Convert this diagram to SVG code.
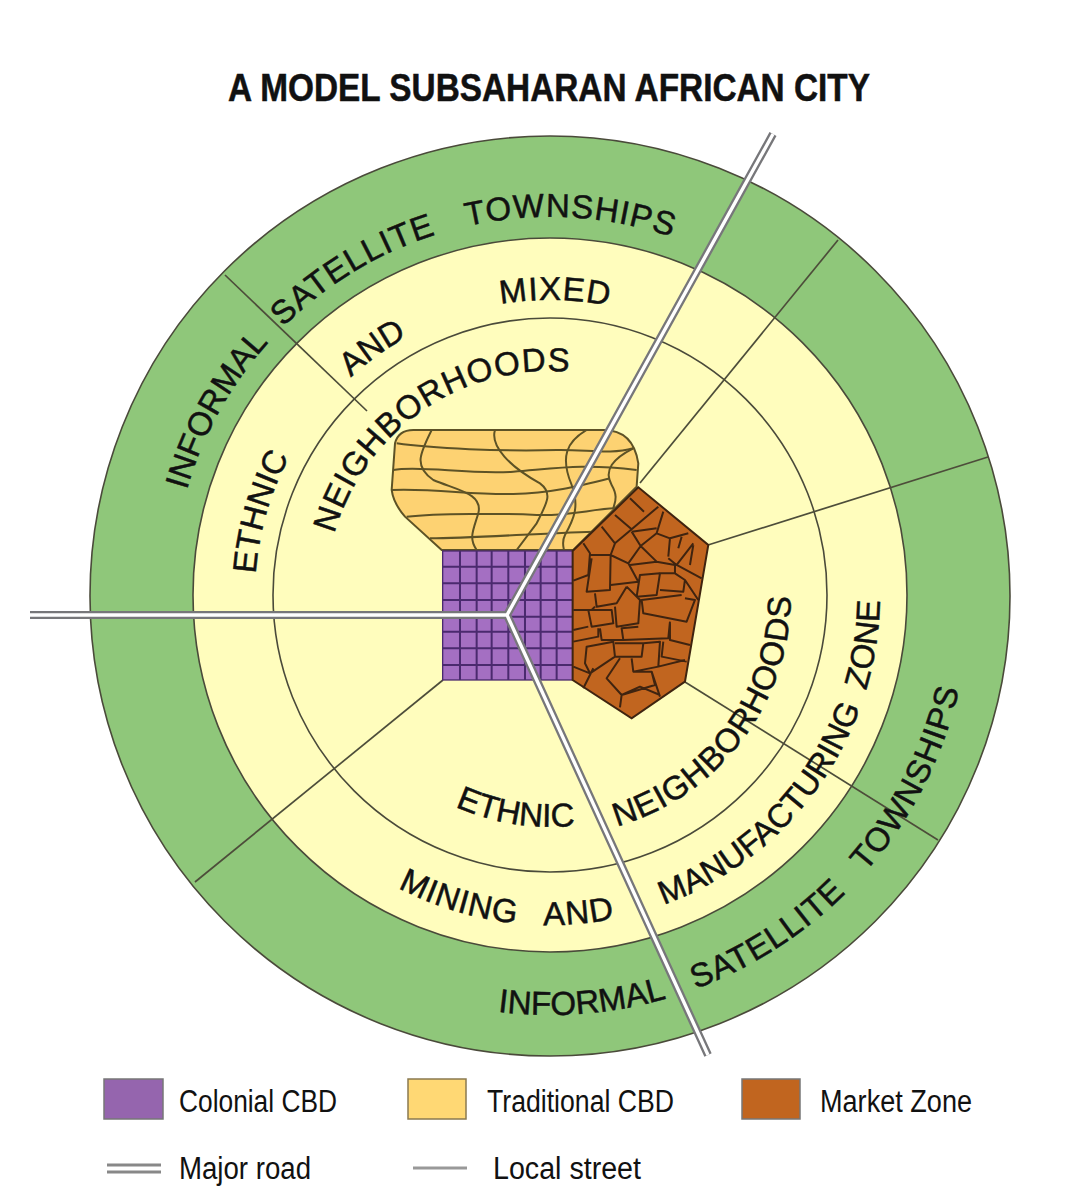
<svg xmlns="http://www.w3.org/2000/svg" width="1081" height="1200" viewBox="0 0 1081 1200">
<style>
text{font-family:"Liberation Sans",Arial,sans-serif;fill:#111}
.z{font-size:33px;text-anchor:middle;stroke:#111;stroke-width:.5}
.title{font-size:38px;font-weight:bold;stroke:#111;stroke-width:.5}
.leg{font-size:31px}
.ring{stroke:#4a4a3a;stroke-width:1.6}
.st{fill:none;stroke:#4d4d3a;stroke-width:1.7}
.tl{fill:none;stroke:#5d5226;stroke-width:6;stroke-linejoin:round}
.ml{fill:none;stroke:#3f2410;stroke-width:6;stroke-linejoin:round}
.gl{fill:none;stroke:#4a2a6e;stroke-width:6}
.r1{fill:none;stroke:#77777a;stroke-width:8;stroke-linejoin:miter}
.r2{fill:none;stroke:#fff;stroke-width:3.4;stroke-linejoin:miter}
</style>
<defs>
<path id="t378" d="M222.6,406A378,378 0 0 1 877.4,406"/>
<path id="t295" d="M294.5,447.5A295,295 0 0 1 805.5,447.5"/>
<path id="t224" d="M356,483A224,224 0 0 1 744,483"/>
<path id="b232" d="M349.1,711A232,232 0 0 0 750.9,711"/>
<path id="b241" d="M341.3,715.5A241,241 0 0 0 758.7,715.5"/>
<path id="b330" d="M264.2,760A330,330 0 0 0 835.8,760"/>
<path id="b420" d="M186.3,805A420,420 0 0 0 913.7,805"/>
<clipPath id="cT"><path d="M65,240L75,100Q85,60 130,60L700,60Q790,60 805,160L800,230L610,420L215,420L105,320Q70,280 65,240Z"/></clipPath>
</defs>
<rect width="1081" height="1200" fill="#fff"/>
<text class="title" x="228" y="101" textLength="642" lengthAdjust="spacingAndGlyphs">A MODEL SUBSAHARAN AFRICAN CITY</text>
<g id="outer-ring"><circle class="ring" cx="550" cy="596" r="460" fill="#8fc77a"/></g>
<g id="middle-ring"><circle class="ring" cx="550" cy="595" r="357" fill="#fffdbd"/></g>
<g id="inner-ring"><circle class="ring" cx="550" cy="595" r="277" fill="#fffdbd"/></g>
<g id="connectors">
<path class="st" d="M225,275L367,411"/>
<path class="st" d="M838,240L640,483"/>
<path class="st" d="M988,457L708,545"/>
<path class="st" d="M938,840L685,682"/>
<path class="st" d="M195,882L443,680"/>
</g>
<g id="traditional-cbd" transform="translate(370 410) scale(.3333)">
<path d="M65,240L75,100Q85,60 130,60L700,60Q790,60 805,160L800,230L610,420L215,420L105,320Q70,280 65,240Z" fill="#fdd272" stroke="#5d5226" stroke-width="6"/>
<g clip-path="url(#cT)">
<path class="tl" d="M80,100C180,115 400,125 560,120C650,118 720,135 790,115"/>
<path class="tl" d="M70,180C150,165 300,195 430,185C560,175 640,160 800,180"/>
<path class="tl" d="M65,240C200,235 300,255 430,252C540,250 620,230 720,205"/>
<path class="tl" d="M110,320C200,310 400,310 500,315C600,318 660,298 735,295"/>
<path class="tl" d="M180,385C300,385 500,370 670,365"/>
<path class="tl" d="M185,60C150,130 130,170 190,210C260,240 340,250 325,310C310,360 295,385 320,420"/>
<path class="tl" d="M375,60C360,110 420,170 510,220C550,250 530,280 500,340L440,420"/>
<path class="tl" d="M650,60C590,95 570,140 605,225C630,290 610,330 585,375C575,395 580,410 582,420"/>
<path class="tl" d="M790,115C730,145 700,180 725,225C745,260 735,275 730,295"/>
</g>
</g>
<g id="colonial-cbd" transform="translate(370 410) scale(.3333)">
<rect x="218" y="423" width="390" height="387" fill="#a46fc2" stroke="#4a2a6e" stroke-width="4"/>
<path class="gl" d="M270,423V810M320,423V810M365,423V810M415,423V810M465,423V810M512,423V810M560,423V810M218,470H608M218,520H608M218,570H608M218,620H608M218,665H608M218,715H608M218,765H608"/>
</g>
<g id="market-zone" transform="translate(370 410) scale(.3333)">
<path d="M608,423L805,232L1015,405L945,815L785,925L608,810Z" fill="#c1651f" stroke="#3f2410" stroke-width="6"/>
<path class="ml" d="M695,350L735,400L785,358L865,290M735,315L785,358M780,265L822,305M880,305L860,370L900,385L955,370M785,365L812,408L775,460L722,435L735,400M812,408L860,370M785,365L860,355M640,400L660,430L655,495L610,512M660,435L722,435M665,445L650,545L720,540L722,435M722,525L805,515L775,460M812,408L860,455L780,465M900,385L895,440M935,380L925,415M895,445L920,465L970,400M920,465L995,505M970,405L960,465M860,455L915,465L915,490L870,490L860,555L800,560L810,495L870,490M915,490L945,510L940,545L870,540M945,510L985,570M945,565L975,570L950,635L820,610L815,570L935,555M770,530L740,580L680,590L675,550M770,530L810,570L805,640L740,650L735,590M675,590L665,600L610,600M665,600L725,600L730,640L665,650L655,600M655,650L610,660M690,655L695,690L760,690L755,655L805,650M760,690L895,685L900,635M685,655L685,680L610,695M650,710L730,695L735,740L660,790L645,760Z M735,700L820,700L815,740L735,740M820,700L870,695L865,770L790,785L785,745M880,695L875,740L950,755M900,640L900,690L960,705M750,745L710,805L755,855L855,825L845,785L790,785M610,770L660,790M670,775L640,835M845,785L870,860M865,770L945,750M870,855L810,830L755,855L750,892"/>
</g>
<g id="roads">
<path class="r1" d="M773,134L507,615L30,615M507,615L708,1055"/>
<path class="r2" d="M773,134L507,615L30,615M507,615L708,1055"/>
</g>
<g id="labels">
<g transform="rotate(-61 550 595)"><text class="z" letter-spacing="0"><textPath href="#t378" startOffset="50%">INFORMAL</textPath></text></g>
<g transform="rotate(-13 550 595)"><text class="z" letter-spacing="1" word-spacing="22"><textPath href="#t378" startOffset="50%">SATELLITE TOWNSHIPS</textPath></text></g>
<g transform="rotate(1 550 595)"><text class="z" letter-spacing="1"><textPath href="#t295" startOffset="50%">MIXED</textPath></text></g>
<g transform="rotate(-35.7 550 595)"><text class="z" letter-spacing="0"><textPath href="#t295" startOffset="50%">AND</textPath></text></g>
<g transform="rotate(-74 550 595)"><text class="z" letter-spacing="0"><textPath href="#t295" startOffset="50%">ETHNIC</textPath></text></g>
<g transform="rotate(-34.5 550 595)"><text class="z" letter-spacing="1"><textPath href="#t224" startOffset="50%">NEIGHBORHOODS</textPath></text></g>
<g transform="rotate(9 550 595)"><text class="z" letter-spacing="0"><textPath href="#b232" startOffset="50%">ETHNIC</textPath></text></g>
<g transform="rotate(-53 550 595)"><text class="z" letter-spacing="1"><textPath href="#b241" startOffset="50%">NEIGHBORHOODS</textPath></text></g>
<g transform="rotate(8 550 595)"><text class="z" letter-spacing="1" word-spacing="18"><textPath href="#b330" startOffset="50%">MINING AND</textPath></text></g>
<g transform="rotate(-54.6 550 595)"><text class="z" letter-spacing="0" word-spacing="8"><textPath href="#b330" startOffset="50%">MANUFACTURING ZONE</textPath></text></g>
<g transform="rotate(-4.5 550 595)"><text class="z" letter-spacing="0"><textPath href="#b420" startOffset="50%">INFORMAL</textPath></text></g>
<g transform="rotate(-48.7 550 595)"><text class="z" letter-spacing="1" word-spacing="18"><textPath href="#b420" startOffset="50%">SATELLITE TOWNSHIPS</textPath></text></g>
</g>
<g id="legend">
<rect x="104" y="1079" width="59" height="40" fill="#9565ae" stroke="#777" stroke-width="1.5"/>
<text class="leg" x="179" y="1112" textLength="158" lengthAdjust="spacingAndGlyphs">Colonial CBD</text>
<rect x="408" y="1079" width="58" height="40" fill="#ffd874" stroke="#8a7a50" stroke-width="1.5"/>
<text class="leg" x="487" y="1112" textLength="187" lengthAdjust="spacingAndGlyphs">Traditional CBD</text>
<rect x="742" y="1079" width="58" height="40" fill="#c1651f" stroke="#777" stroke-width="1.5"/>
<text class="leg" x="820" y="1112" textLength="152" lengthAdjust="spacingAndGlyphs">Market Zone</text>
<path d="M107,1165H161M107,1172H161" fill="none" stroke="#888" stroke-width="3"/>
<text class="leg" x="179" y="1179" textLength="132" lengthAdjust="spacingAndGlyphs">Major road</text>
<path d="M413,1168H467" fill="none" stroke="#999" stroke-width="3"/>
<text class="leg" x="493" y="1179" textLength="148" lengthAdjust="spacingAndGlyphs">Local street</text>
</g>
</svg>
